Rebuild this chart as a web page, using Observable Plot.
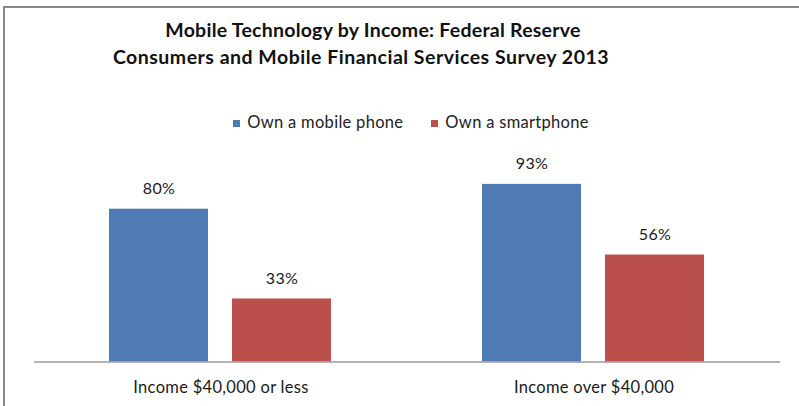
<!DOCTYPE html>
<html>
<head>
<meta charset="utf-8">
<script src="https://cdn.jsdelivr.net/npm/d3@7"></script>
<script src="https://cdn.jsdelivr.net/npm/@observablehq/plot@0.6"></script>
<style>
  body { margin: 0; background: #fff; }
  #wrap { position: relative; width: 799px; height: 406px; overflow: hidden; font-family: Lato, "Open Sans", sans-serif; color: #1a1a1a; }
  #frame { position: absolute; left: 3px; top: 6px; width: 810px; height: 420px; border-left: 2px solid #888; border-top: 2px solid #888; box-sizing: border-box; }
  #title { position: absolute; left: 0; top: 16px; width: 722px; text-align: center; font-weight: bold; font-size: 19.5px; letter-spacing: 0.1px; line-height: 27px; color: #111; }
  #title .l1 { position: relative; left: 12px; letter-spacing: 0.25px; }
  #title .l2 { letter-spacing: 0.5px; }
  #legend { position: absolute; left: 0; top: 113px; width: 822px; text-align: center; font-size: 16.5px; letter-spacing: 0.3px; line-height: 18px; color: #222; white-space: nowrap; }
  .sw { display: inline-block; width: 7px; height: 7px; margin-right: 7px; vertical-align: 1px; }
  .item { display: inline-block; margin: 0 14px; }
  #chart { position: absolute; left: 0; top: 0; }
</style>
</head>
<body>
<div id="wrap">
  <div id="frame"></div>
  <div id="title"><span class="l1">Mobile Technology by Income: Federal Reserve</span><br><span class="l2">Consumers and Mobile Financial Services Survey 2013</span></div>
  <div id="legend"></div>
  <div id="chart"></div>
</div>
<script>
const groups = ["Income $40,000 or less", "Income over $40,000"];
const series = ["Own a mobile phone", "Own a smartphone"];
const mobilePhone = [80, 93];
const smartphone = [33, 56];
const colors = ["#4E7BB4", "#BB4F4C"];

const data = [];
groups.forEach((g, i) => {
  data.push({group: g, series: series[0], value: mobilePhone[i]});
  data.push({group: g, series: series[1], value: smartphone[i]});
});

const legend = document.getElementById("legend");
series.forEach((s, i) => {
  const item = document.createElement("span");
  item.className = "item";
  item.innerHTML = `<span class="sw" style="background:${colors[i]}"></span>${s}`;
  legend.appendChild(item);
});

const plot = Plot.plot({
  width: 799,
  height: 406,
  marginLeft: 33,
  marginRight: 19,
  marginTop: 170.5,
  marginBottom: 44.5,
  style: {fontFamily: "Lato, 'Open Sans', sans-serif", fontSize: "16px", letterSpacing: "0.3px", color: "#1a1a1a", background: "transparent"},
  fx: {domain: groups, padding: 0, label: null},
  x: {domain: series, paddingInner: 0.1935, paddingOuter: 0.605, axis: null},
  y: {domain: [0, 100], axis: null},
  color: {domain: series, range: colors},
  marks: [
    Plot.barY(data, {fx: "group", x: "series", y: "value", fill: "series"}),
    Plot.ruleY([0], {stroke: "#9a9a9a", strokeWidth: 1.5}),
    Plot.text(data, {fx: "group", x: "series", y: "value", text: d => d.value + "%", dy: -20, fill: "#1a1a1a", fontSize: 16}),
    Plot.axisFx({anchor: "bottom", tickSize: 0, tickPadding: 19, fontSize: 16.5, label: null, fill: "#1a1a1a"})
  ]
});
document.getElementById("chart").appendChild(plot);
</script>
</body>
</html>
